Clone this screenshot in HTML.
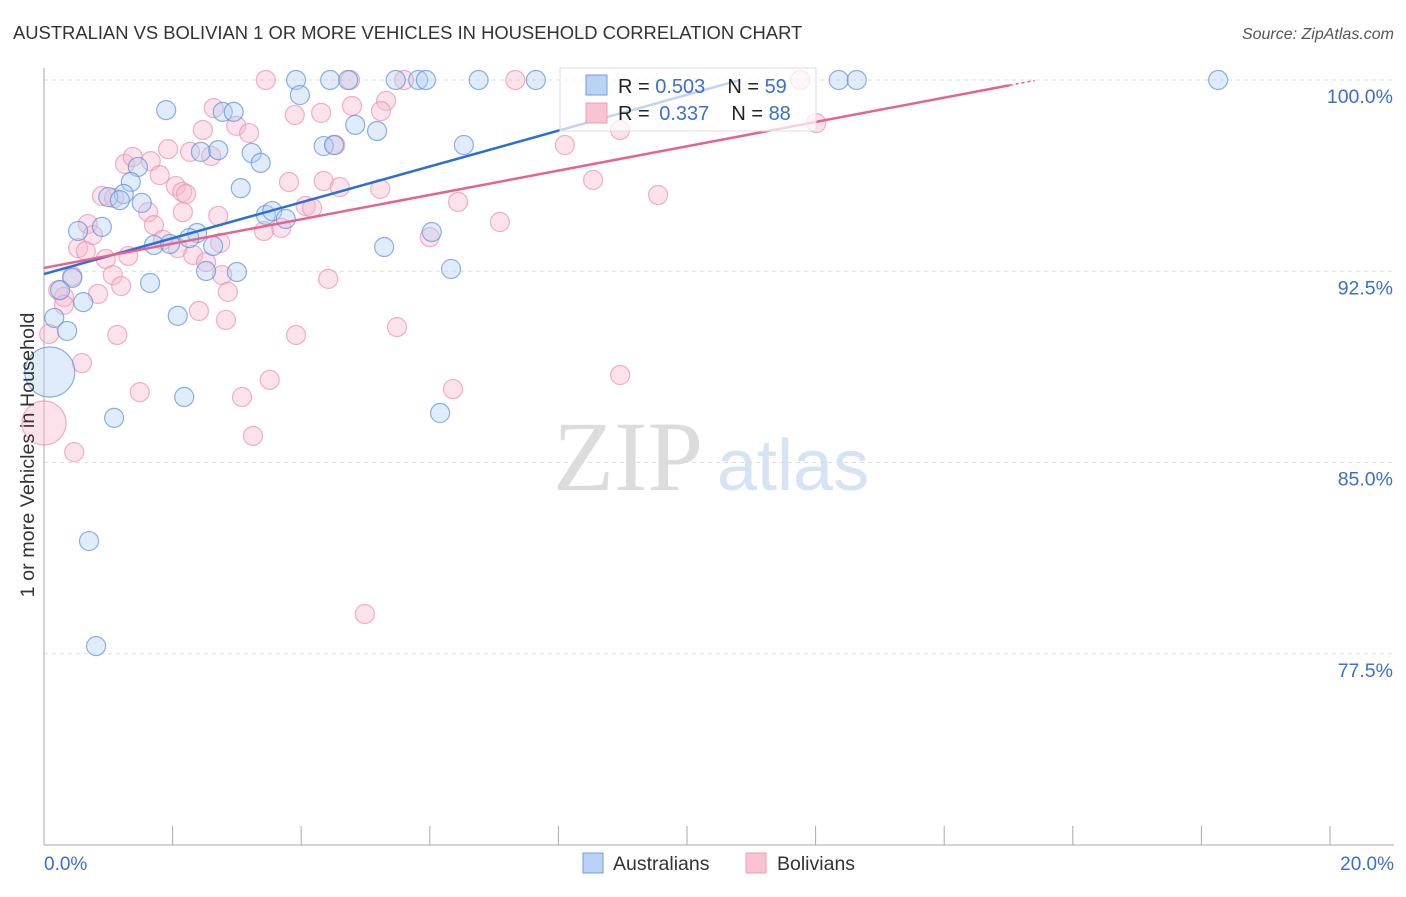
<!DOCTYPE html>
<html><head><meta charset="utf-8"><style>
body{margin:0;background:#fff;font-family:"Liberation Sans",sans-serif}
svg text{font-family:"Liberation Sans",sans-serif}
</style></head><body>
<svg id="c" width="1406" height="892">
<text x="13" y="39" font-size="18.4" fill="#333">AUSTRALIAN VS BOLIVIAN 1 OR MORE VEHICLES IN HOUSEHOLD CORRELATION CHART</text>
<text x="1394" y="39" font-size="16" fill="#555" font-style="italic" text-anchor="end">Source: ZipAtlas.com</text>
<g>
<text x="553" y="490" font-size="100" fill="#dcdcdc" font-family="Liberation Serif" style="font-family:'Liberation Serif',serif">ZIP</text>
<text x="717" y="490" font-size="72" fill="#d6e3f5">atlas</text>
</g>
<g id="grid"></g><g id="axes"></g><g id="marks"></g>
<text transform="translate(34,455) rotate(-90)" font-size="19.8" fill="#333" text-anchor="middle">1 or more Vehicles in Household</text>
<text x="44" y="870" font-size="19" fill="#3a6fd0">0.0%</text>
<text x="1394" y="870" font-size="19" fill="#3a6fd0" text-anchor="end">20.0%</text>
<g>
<rect x="560" y="68" width="256" height="63" fill="#fff" fill-opacity="0.7" stroke="#ddd"/>
<rect x="586" y="75" width="21" height="20" fill="#b9d3f5" stroke="#6f9ee0"/>
<rect x="586" y="103" width="21" height="20" fill="#f9c3d3" stroke="#ec9bb4"/>
<text x="618" y="93" font-size="20" fill="#222">R = <tspan fill="#3a6fd0">0.503</tspan><tspan dx="22">N = </tspan><tspan fill="#3a6fd0">59</tspan></text>
<text x="618" y="120" font-size="20" fill="#222">R = <tspan fill="#3a6fd0" dx="4">0.337</tspan><tspan dx="22">N = </tspan><tspan fill="#3a6fd0">88</tspan></text>
</g>
<g>
<rect x="583" y="853" width="20" height="20" fill="#b9d3f5" stroke="#6f9ee0"/>
<text x="613" y="870" font-size="19.5" fill="#333">Australians</text>
<rect x="746" y="853" width="20" height="20" fill="#f9c3d3" stroke="#ec9bb4"/>
<text x="777" y="870" font-size="19.5" fill="#333">Bolivians</text>
</g>
</svg>
<script>
const yTicks=[100,92.5,85,77.5];
const yTickLabels=["100.0%","92.5%","85.0%","77.5%"];
const xTicks=[0,2,4,6,8,10,12,14,16,18,20];
const ausX=[1.90,2.78,2.95,3.92,3.98,4.45,4.73,5.47,5.82,5.94,6.76,7.65,12.36,12.64,18.26,4.84,5.18,2.44,2.71,3.23,3.37,4.35,4.51,6.53,1.46,1.35,1.24,1.00,1.18,1.52,3.06,3.45,3.55,3.76,0.53,0.90,2.38,2.26,1.71,1.96,2.63,6.03,5.29,0.44,2.52,3.00,6.33,1.65,0.61,0.25,2.08,0.16,0.36,0.09,2.18,1.09,6.16,0.70,0.81];
const ausY=[98.82,98.75,98.75,100,99.41,100,100,100,100,100,100,100,100,100,100,98.24,98.0,97.18,97.25,97.14,96.75,97.41,97.45,97.45,96.59,96.0,95.53,95.41,95.29,95.18,95.76,94.71,94.86,94.55,94.08,94.24,94.0,93.80,93.53,93.57,93.49,94.04,93.45,92.24,92.51,92.47,92.59,92.04,91.29,91.76,90.75,90.67,90.16,88.55,87.57,86.75,86.94,81.92,77.80];
const ausBig=[53];
const bolX=[3.45,4.76,5.60,7.33,11.76,2.64,3.90,4.31,4.79,5.32,5.24,2.47,2.99,3.19,1.93,2.27,2.60,4.53,1.26,1.38,1.66,1.80,2.05,2.15,2.21,3.81,4.35,4.60,5.23,6.44,8.10,8.96,12.01,8.54,9.55,0.90,1.09,1.62,2.16,2.71,4.07,4.17,7.09,0.68,0.76,1.71,3.42,3.69,6.00,0.53,0.65,1.31,1.85,2.08,2.74,0.96,1.07,2.32,2.52,0.22,0.31,0.84,1.20,2.77,2.86,4.42,0.31,2.41,0.08,1.14,3.92,5.49,0.59,8.96,1.49,3.51,3.08,6.36,0,0.47,3.25,4.99,2.83,0.44];
const bolY=[100,100,100,100,100,98.90,98.63,98.71,98.98,99.18,98.78,98.04,98.20,97.92,97.29,97.18,97.02,97.45,96.71,96.98,96.82,96.27,95.84,95.61,95.53,96.0,96.04,95.80,95.73,95.22,97.45,98.04,98.31,96.08,95.49,95.45,95.37,94.82,94.82,94.67,95.06,94.98,94.43,94.35,93.92,94.31,94.08,94.20,93.84,93.41,93.29,93.10,93.73,93.41,93.61,92.98,92.35,93.14,92.86,91.76,91.49,91.61,91.92,92.35,91.69,92.20,91.18,90.94,90.04,90.0,90.0,90.31,88.90,88.43,87.76,88.24,87.57,87.88,86.55,85.41,86.04,79.06,90.59,92.31];
const bolBig=[78];
const ausTrend=[92.39,0.703,10.82];
const bolTrend=[92.63,0.477,15.02,15.41];
const NS='http://www.w3.org/2000/svg';
const X=v=>44+v*64.3, Y=v=>80+(100-v)*25.5;
function mk(t,a,p){const e=document.createElementNS(NS,t);for(const k in a)e.setAttribute(k,a[k]);p.appendChild(e);return e;}
const grid=document.getElementById('grid'),axes=document.getElementById('axes'),marks=document.getElementById('marks');
yTicks.forEach((t,i)=>{
 const l=mk('line',{x1:44,x2:1394,y1:Y(t),y2:Y(t),stroke:'#ddd','stroke-dasharray':'4,4'},grid);
 
 
 const tx=mk('text',{x:1393,y:Y(t)+23,'font-size':19.5,fill:'#3a6fd0','text-anchor':'end'},grid);
 tx.textContent=yTickLabels[i];
 
 
});
const ax=mk('line',{x1:44,x2:44,y1:68,y2:845,stroke:'#aaa'},axes);


const bx=mk('line',{x1:44,x2:1394,y1:845,y2:845,stroke:'#aaa'},axes);


xTicks.forEach(t=>{
 const l=mk('line',{x1:X(t),x2:X(t),y1:826,y2:845,stroke:'#aaa'},axes);
 
 
});
function pts(xs,ys,big,fill,stroke,name){
 xs.forEach((v,i)=>{
  const r=big.includes(i)?(name==='australian-point'?25:22):9.5;
  const c=mk('circle',{cx:X(v),cy:Y(ys[i]),r:r,fill:fill,'fill-opacity':0.4,stroke:stroke,'stroke-opacity':0.7,'stroke-width':1.2},marks);
  
  
 });
}
pts(bolX,bolY,bolBig,'#f7b9cc','#ec8fae','bolivian-point');
pts(ausX,ausY,ausBig,'#b4cff3','#5c8fdb','australian-point');
const bl=mk('line',{x1:X(0),y1:Y(ausTrend[0]),x2:X(ausTrend[2]),y2:Y(ausTrend[0]+ausTrend[1]*ausTrend[2]),stroke:'#2a6fd6','stroke-width':2.5},marks);


const pl=mk('line',{x1:X(0),y1:Y(bolTrend[0]),x2:X(bolTrend[2]),y2:Y(bolTrend[0]+bolTrend[1]*bolTrend[2]),stroke:'#e8628f','stroke-width':2.5},marks);


const pd=mk('line',{x1:X(bolTrend[2]),y1:Y(bolTrend[0]+bolTrend[1]*bolTrend[2]),x2:X(bolTrend[3]),y2:Y(bolTrend[0]+bolTrend[1]*bolTrend[3]),stroke:'#e8628f','stroke-width':1.5,'stroke-dasharray':'3,3'},marks);


</script>
</body></html>
